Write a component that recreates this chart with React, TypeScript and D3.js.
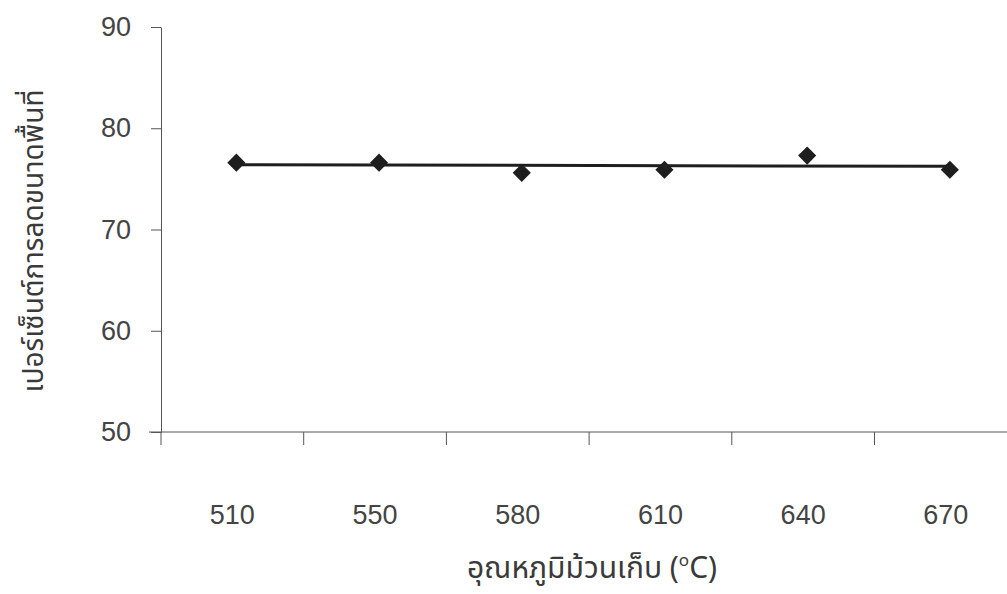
import React, { useEffect, useRef } from 'react';
import * as d3 from 'd3';

const temperatures = ['510', '550', '580', '610', '640', '670'];
const reductionPct = [76.6, 76.6, 75.6, 75.9, 77.3, 75.9];
const yTicks = [50, 60, 70, 80, 90];

const yTitle = 'เปอร์เซ็นต์การลดขนาดพื้นที่';
const xTitle = 'อุณหภูมิม้วนเก็บ (';

const W = 1007;
const H = 594;
const FONT = "'Liberation Sans', Arial, sans-serif";
const THAI_FONT = "'Noto Sans Thai', 'Noto Sans', 'DejaVu Sans', sans-serif";

const App: React.FC = () => {
  const svgRef = useRef<SVGSVGElement>(null);

  useEffect(() => {
    if (!svgRef.current) return;
    const svg = d3.select(svgRef.current);
    svg.selectAll('*').remove();

    const x0 = 161;
    const x = d3.scaleBand<string>()
      .domain(temperatures)
      .range([x0, x0 + 6 * 142.7])
      .padding(0);

    const y = d3.scaleLinear()
      .domain([50, 90])
      .range([432, 27]);

    // y axis
    const yAxis = svg.append('g')
      .attr('transform', `translate(${x0},0)`)
      .call(d3.axisLeft(y).tickValues(yTicks).tickSize(10).tickSizeOuter(0).tickPadding(20));
    yAxis.select('.domain').attr('stroke', '#555').attr('stroke-width', 1);
    yAxis.selectAll('.tick line').attr('stroke', '#555');
    yAxis.selectAll('.tick text')
      .attr('fill', '#444')
      .style('font-family', FONT)
      .style('font-size', '27px');

    // x axis line + ticks at band edges
    const xAxis = svg.append('g');
    xAxis.append('line')
      .attr('x1', x0 - 12).attr('x2', W)
      .attr('y1', y(50)).attr('y2', y(50))
      .attr('stroke', '#555');
    const edges = d3.range(temperatures.length + 1).map(i => x.range()[0] + i * x.step());
    xAxis.selectAll('.xt')
      .data(edges)
      .enter()
      .append('line')
      .attr('x1', d => d).attr('x2', d => d)
      .attr('y1', y(50)).attr('y2', y(50) + 13)
      .attr('stroke', '#555');
    xAxis.selectAll('.xl')
      .data(temperatures)
      .enter()
      .append('text')
      .attr('x', d => (x(d) as number) + x.bandwidth() / 2)
      .attr('y', 524)
      .attr('text-anchor', 'middle')
      .attr('fill', '#444')
      .style('font-family', FONT)
      .style('font-size', '27px')
      .text(d => d);

    const cx = (d: string) => (x(d) as number) + x.bandwidth() / 2 + 4;

    // linear trendline (least squares over category index)
    const n = reductionPct.length;
    const mx = d3.mean(d3.range(n)) as number;
    const my = d3.mean(reductionPct) as number;
    const slope = d3.sum(reductionPct, (v, i) => (i - mx) * (v - my)) /
      d3.sum(d3.range(n), i => (i - mx) * (i - mx));
    const icpt = my - slope * mx;
    const trend = [0, n - 1].map(i => ({ cat: temperatures[i], v: icpt + slope * i }));

    const line = d3.line<{ cat: string; v: number }>()
      .x(d => cx(d.cat))
      .y(d => y(d.v));

    svg.append('path')
      .datum(trend)
      .attr('fill', 'none')
      .attr('stroke', '#1e1e1e')
      .attr('stroke-width', 3)
      .attr('d', line);

    // diamond markers
    const diamond = d3.symbol().type(d3.symbolDiamond2).size(210);
    svg.selectAll('.pt')
      .data(temperatures)
      .enter()
      .append('path')
      .attr('d', diamond)
      .attr('transform', (d, i) => `translate(${cx(d)},${y(reductionPct[i])})`)
      .attr('fill', '#1e1e1e');

    // titles
    svg.append('text')
      .attr('transform', `translate(43,${241}) rotate(-90)`)
      .attr('text-anchor', 'middle')
      .attr('fill', '#3a3a3a')
      .style('font-family', THAI_FONT)
      .style('font-size', '28px')
      .text(yTitle);

    const xt = svg.append('text')
      .attr('x', 592)
      .attr('y', 578)
      .attr('text-anchor', 'middle')
      .attr('fill', '#3a3a3a')
      .style('font-family', THAI_FONT)
      .style('font-size', '30px');
    xt.append('tspan').text(xTitle);
    xt.append('tspan').attr('dy', -12).style('font-size', '17px').text('o');
    xt.append('tspan').attr('dy', 12).text('C)');
  }, []);

  return (
    <svg
      ref={svgRef}
      width={W}
      height={H}
      style={{ position: 'absolute', left: 0, top: 0, background: '#fff' }}
    />
  );
};

export default App;
